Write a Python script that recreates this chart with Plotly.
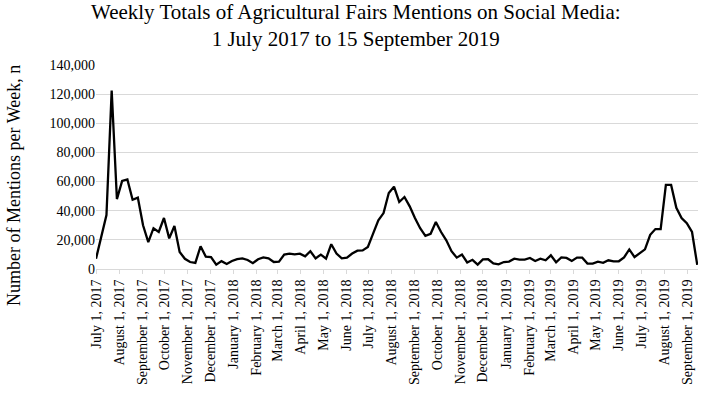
import plotly.graph_objects as go
import pandas as pd

# Weekly mention totals (one value per week starting 1 July 2017)
week_start = "2017-07-01"
mentions = [
    7000, 22000, 37000, 122500, 48000, 60500, 61500, 47500, 49000, 30000,
    18500, 28000, 25500, 35000, 21000, 29500, 11700, 7000, 4800, 4200,
    15600, 8500, 8200, 3000, 5400, 3500, 5500, 6800, 7300, 6200,
    4000, 6700, 8000, 7300, 4800, 5000, 9900, 10500, 10000, 10500,
    8700, 12200, 7300, 9900, 7100, 17000, 10600, 7300, 7800, 10600,
    12600, 12800, 15100, 24300, 33400, 38400, 52200, 56500, 46000, 49400,
    43000, 35000, 28000, 22800, 24200, 32300, 25400, 19700, 12200, 7800,
    9900, 4500, 6300, 3000, 6600, 6700, 3900, 3200, 4800, 5100,
    7100, 6500, 6500, 7600, 5500, 7100, 6000, 9400, 4600, 8000,
    7600, 5500, 7800, 7800, 3700, 3700, 5000, 4200, 6000, 5300,
    5300, 8000, 13400, 8200, 11000, 13500, 23500, 27400, 27400, 57700,
    57700, 42000, 35000, 31500, 25400, 2800,
]
dates = pd.date_range(week_start, periods=len(mentions), freq="7D")
date_strs = [d.strftime("%Y-%m-%d") for d in dates]

tick_dates = pd.date_range("2017-07-01", "2019-09-01", freq="MS")
tick_vals = [d.strftime("%Y-%m-%d") for d in tick_dates]
tick_labels = [f"{d.strftime('%B')} 1, {d.year}" for d in tick_dates]

y_ticks = [0, 20000, 40000, 60000, 80000, 100000, 120000, 140000]

title_text = "Weekly Totals of Agricultural Fairs Mentions on Social Media:<br>1 July 2017 to 15 September 2019"
y_title = "Number of Mentions per Week, n"

font = "Liberation Serif, Times New Roman, serif"
W, H = 701, 414
L, R, T, B = 96, 3, 65, 145
plot_h = H - T - B

fig = go.Figure()
fig.add_trace(go.Scatter(
    x=date_strs, y=mentions, mode="lines",
    line=dict(color="black", width=2.3),
    hoverinfo="skip", showlegend=False,
))

fig.update_layout(
    width=W, height=H,
    margin=dict(l=L, r=R, t=T, b=B, autoexpand=False),
    paper_bgcolor="white", plot_bgcolor="white",
    font=dict(family=font, color="black", size=14),
    annotations=[
        dict(
            text=title_text, showarrow=False,
            xref="paper", yref="paper",
            x=(356 - L) / (W - L - R), xanchor="center",
            y=(H - B - 25) / plot_h, yanchor="middle",
            font=dict(family=font, size=21, color="black"),
        ),
        dict(
            text=y_title, showarrow=False, textangle=-90,
            xref="paper", yref="paper",
            x=(14 - L) / (W - L - R), xanchor="center",
            y=(H - B - 186) / plot_h, yanchor="middle",
            font=dict(family=font, size=18, color="black"),
        ),
    ],
)
fig.update_xaxes(
    type="date",
    range=["2017-07-01", "2019-09-15"],
    tickmode="array", tickvals=tick_vals, ticktext=tick_labels,
    tickangle=-90,
    tickfont=dict(family=font, size=14, color="black"),
    showgrid=False,
    showline=True, linecolor="#d9d9d9", linewidth=1,
    ticks="outside", ticklen=4, tickcolor="#d9d9d9",
    zeroline=False, automargin=False,
)
fig.update_yaxes(
    range=[0, 140000],
    tickmode="array", tickvals=y_ticks,
    tickformat=",",
    tickfont=dict(family=font, size=14, color="black"),
    showgrid=True, gridcolor="#d9d9d9", gridwidth=1,
    zeroline=False, showline=False,
    ticks="", automargin=False,
)

fig.write_html(
    "out.html",
    config={"displayModeBar": False},
    post_script="document.body.style.margin='0';document.body.style.padding='0';",
)
